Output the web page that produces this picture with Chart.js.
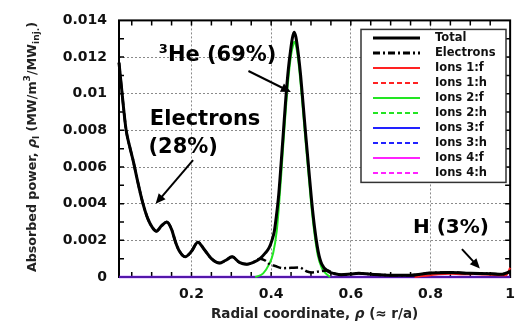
<!DOCTYPE html>
<html>
<head>
<meta charset="utf-8">
<script src="https://cdn.jsdelivr.net/npm/chart.js@4"></script>
<style>
  body { margin: 0; background: #fff; }
  #wrap { width: 524px; height: 329px; position: relative; }
</style>
</head>
<body>
<div id="wrap"><canvas id="powerChart"></canvas></div>
<script>
// absorbed power profiles
const rhoTotal = [0.018, 0.024, 0.030, 0.036, 0.045, 0.053, 0.065, 0.077, 0.090, 0.102, 0.112, 0.125, 0.138, 0.150, 0.160, 0.170, 0.184, 0.200, 0.216, 0.232, 0.250, 0.270, 0.285, 0.302, 0.320, 0.339, 0.355, 0.372, 0.385, 0.395, 0.402, 0.408, 0.413, 0.419, 0.425, 0.431, 0.437, 0.443, 0.449, 0.453, 0.4575, 0.462, 0.468, 0.474, 0.480, 0.487, 0.494, 0.501, 0.509, 0.518, 0.527, 0.544, 0.560, 0.576, 0.600, 0.620, 0.650, 0.700, 0.750, 0.800, 0.850, 0.900, 0.950, 0.980, 1.0];
const pTotal = [0.0117, 0.0104, 0.0091, 0.0080, 0.0071, 0.0064, 0.0052, 0.0041, 0.0032, 0.0027, 0.0025, 0.0028, 0.0030, 0.0026, 0.0019, 0.0014, 0.0011, 0.0014, 0.0019, 0.0015, 0.0010, 0.00076, 0.0009, 0.0011, 0.0008, 0.0007, 0.0008, 0.0010, 0.0013, 0.0016, 0.0020, 0.0025, 0.0033, 0.0045, 0.0062, 0.0080, 0.0098, 0.0113, 0.0124, 0.0130, 0.01336, 0.0131, 0.0122, 0.0110, 0.0095, 0.0077, 0.0060, 0.0043, 0.0027, 0.0014, 0.0007, 0.0003, 0.00018, 0.00012, 0.00016, 0.0002, 0.00015, 0.0001, 0.0001, 0.00022, 0.00025, 0.0002, 0.00018, 0.00015, 0.0003];

// electrons follow the total except around the 3He peak
const rhoElecPeak = [0.385, 0.396, 0.41, 0.43, 0.45, 0.47, 0.49, 0.503, 0.52, 0.54, 0.56];
const pElecPeak = [0.0009, 0.0007, 0.0006, 0.00048, 0.0005, 0.00052, 0.0003, 0.00025, 0.0003, 0.00035, 0.00018];

const rhoHe = [0.36, 0.38, 0.395, 0.405, 0.414, 0.420, 0.426, 0.432, 0.438, 0.444, 0.450, 0.4545, 0.458, 0.4625, 0.467, 0.473, 0.479, 0.486, 0.493, 0.500, 0.508, 0.517, 0.527, 0.537, 0.548];
const pHe = [0, 0.0002, 0.0007, 0.0013, 0.0025, 0.0040, 0.0058, 0.0077, 0.0095, 0.0110, 0.0121, 0.0126, 0.01283, 0.0126, 0.0120, 0.0108, 0.0093, 0.0075, 0.0058, 0.0041, 0.0025, 0.0012, 0.0005, 0.0002, 0];

const rhoH = [0.76, 0.78, 0.80, 0.82, 0.85, 0.88, 0.91, 0.94, 0.97, 0.99, 1.0];
const pH = [0, 0.00005, 0.0001, 0.00015, 0.00018, 0.00015, 0.00016, 0.00013, 0.0001, 0.0001, 0.0005];

const rhoEdge = [0.018, 1.0];
const pZero = [0, 0];

const xTicks = [0.2, 0.4, 0.6, 0.8, 1];
const xTickLabels = ["0.2", "0.4", "0.6", "0.8", "1"];
const yTicks = [0, 0.002, 0.004, 0.006, 0.008, 0.01, 0.012, 0.014];
const yTickLabels = ["0", "0.002", "0.004", "0.006", "0.008", "0.01", "0.012", "0.014"];
const xMinor = [0.05, 0.1, 0.15, 0.2, 0.25, 0.3, 0.35, 0.4, 0.45, 0.5, 0.55, 0.6, 0.65, 0.7, 0.75, 0.8, 0.85, 0.9, 0.95];
const yMinor = [0.001, 0.002, 0.003, 0.004, 0.005, 0.006, 0.007, 0.008, 0.009, 0.01, 0.011, 0.012, 0.013];

const FONT = '"DejaVu Sans", sans-serif';

function pts(xs, ys) {
  return xs.map((x, i) => ({ x: x, y: ys[i] }));
}

const totalPts = pts(rhoTotal, pTotal);
const elecPts = totalPts
  .filter((p) => p.x < 0.38)
  .concat(pts(rhoElecPeak, pElecPeak))
  .concat(totalPts.filter((p) => p.x > 0.57));

function line(label, data, color, width, dash, key) {
  return {
    label: label,
    data: data,
    borderColor: color,
    backgroundColor: color,
    keyColor: key || color,
    borderWidth: width,
    borderDash: dash || [],
    pointRadius: 0,
    fill: false,
    clip: 3,
    cubicInterpolationMode: "monotone",
  };
}

const datasets = [
  line("Total", totalPts, "#000000", 3),
  line("Electrons", elecPts, "#000000", 2.5, [9, 3, 2, 3]),
  line("Ions 1:f", pts(rhoH, pH), "#ff2222", 2),
  line("Ions 1:h", [], "#ff2222", 1.5, [5, 3]),
  line("Ions 2:f", pts(rhoHe, pHe), "#22e622", 2),
  line("Ions 2:h", [], "#22e622", 1.5, [5, 3]),
  line("Ions 3:f", pts(rhoEdge, pZero), "rgba(34,34,255,0.4)", 2.5, null, "#2222ff"),
  line("Ions 3:h", [], "#2222ff", 1.5, [5, 3]),
  line("Ions 4:f", pts(rhoEdge, pZero), "rgba(255,34,255,0.45)", 2.5, null, "#ff22ff"),
  line("Ions 4:h", [], "#ff22ff", 1.5, [5, 3]),
];

function arrow(ctx, x1, y1, x2, y2) {
  const a = Math.atan2(y2 - y1, x2 - x1);
  const len = 10, half = 4.5;
  ctx.beginPath();
  ctx.moveTo(x1, y1);
  ctx.lineTo(x2 - Math.cos(a) * len * 0.8, y2 - Math.sin(a) * len * 0.8);
  ctx.lineWidth = 2;
  ctx.strokeStyle = "#000";
  ctx.stroke();
  ctx.beginPath();
  ctx.moveTo(x2, y2);
  ctx.lineTo(x2 - Math.cos(a) * len - Math.sin(a) * half, y2 - Math.sin(a) * len + Math.cos(a) * half);
  ctx.lineTo(x2 - Math.cos(a) * len + Math.sin(a) * half, y2 - Math.sin(a) * len - Math.cos(a) * half);
  ctx.closePath();
  ctx.fillStyle = "#000";
  ctx.fill();
}

// draws runs of text [text, font, dy] one after another
function runs(ctx, parts, x, y) {
  let cx = x;
  parts.forEach((p) => {
    ctx.font = p[1];
    ctx.fillText(p[0], cx, y + (p[2] || 0));
    cx += ctx.measureText(p[0]).width;
  });
  return cx - x;
}
function runsWidth(ctx, parts) {
  let w = 0;
  parts.forEach((p) => {
    ctx.font = p[1];
    w += ctx.measureText(p[0]).width;
  });
  return w;
}

const framePlugin = {
  id: "frame",
  beforeDatasetsDraw(chart) {
    const { ctx, chartArea: a } = chart;
    const xs = chart.scales.x, ys = chart.scales.y;
    ctx.save();
    ctx.strokeStyle = "#000";
    ctx.lineWidth = 1.5;
    xMinor.forEach((v) => {
      const px = xs.getPixelForValue(v);
      ctx.beginPath();
      ctx.moveTo(px, a.bottom); ctx.lineTo(px, a.bottom - 5);
      ctx.moveTo(px, a.top); ctx.lineTo(px, a.top + 5);
      ctx.stroke();
    });
    yMinor.forEach((v) => {
      const py = ys.getPixelForValue(v);
      ctx.beginPath();
      ctx.moveTo(a.left, py); ctx.lineTo(a.left + 5, py);
      ctx.moveTo(a.right, py); ctx.lineTo(a.right - 5, py);
      ctx.stroke();
    });
    ctx.lineWidth = 2;
    ctx.strokeRect(a.left, a.top, a.right - a.left, a.bottom - a.top);
    ctx.restore();
  },
  afterDatasetsDraw(chart) {
    const { ctx, chartArea: a } = chart;
    const xs = chart.scales.x, ys = chart.scales.y;
    const X = (v) => xs.getPixelForValue(v);
    const Y = (v) => ys.getPixelForValue(v);
    ctx.save();

    // annotations
    ctx.fillStyle = "#000";
    ctx.textBaseline = "alphabetic";
    ctx.textAlign = "left";
    runs(ctx, [["3", "bold 13px " + FONT, -8], ["He (69%)", "bold 21px " + FONT]], X(0.118), Y(0.01177));
    ctx.font = "bold 21px " + FONT;
    ctx.fillText("Electrons", X(0.0955), Y(0.00829));
    ctx.fillText("(28%)", X(0.092), Y(0.00677));
    ctx.font = "bold 20px " + FONT;
    ctx.fillText("H (3%)", X(0.756), Y(0.0024));
    arrow(ctx, X(0.343), Y(0.01124), X(0.4496), Y(0.01009));
    arrow(ctx, X(0.204), Y(0.00638), X(0.110), Y(0.00399));
    arrow(ctx, X(0.879), Y(0.00152), X(0.924), Y(0.00046));

    // legend box
    const lx = a.left + 242, ly = a.top + 9, lw = 145, lh = 153;
    ctx.fillStyle = "#fff";
    ctx.fillRect(lx, ly, lw, lh);
    ctx.strokeStyle = "#333";
    ctx.lineWidth = 1.5;
    ctx.strokeRect(lx, ly, lw, lh);
    chart.data.datasets.forEach((ds, i) => {
      const ry = ly + 8.7 + i * 15;
      ctx.beginPath();
      ctx.setLineDash(ds.borderDash.length ? (i === 1 ? [7, 3, 2, 3] : [5, 3]) : []);
      ctx.strokeStyle = ds.keyColor;
      ctx.lineWidth = i < 2 ? 3 : 2;
      ctx.moveTo(lx + 12, ry);
      ctx.lineTo(lx + 59, ry);
      ctx.stroke();
      ctx.setLineDash([]);
      ctx.fillStyle = "#111";
      ctx.font = "bold 11.5px " + FONT;
      ctx.textBaseline = "middle";
      ctx.fillText(ds.label, lx + 74, ry);
    });

    // axis titles
    ctx.textBaseline = "alphabetic";
    ctx.fillStyle = "#222";
    const xt = [
      ["Radial coordinate, ", "bold 13.5px " + FONT],
      ["ρ", "italic bold 13.5px " + FONT],
      [" (≈ r/a)", "bold 13.5px " + FONT],
    ];
    const xw = runsWidth(ctx, xt);
    runs(ctx, xt, (a.left + a.right) / 2 - xw / 2, 318);

    const yt = [
      ["Absorbed power, ", "bold 12.5px " + FONT],
      ["ρ", "italic bold 12.5px " + FONT],
      ["l", "bold 9px " + FONT, 3],
      [" (MW/m", "bold 12.5px " + FONT],
      ["3", "bold 9px " + FONT, -6],
      ["/MW", "bold 12.5px " + FONT],
      ["inj.", "bold 9px " + FONT, 3],
      [")", "bold 12.5px " + FONT],
    ];
    const yw = runsWidth(ctx, yt);
    ctx.translate(36, (272 + 22) / 2);
    ctx.rotate(-Math.PI / 2);
    ctx.scale(250 / yw, 1);
    runs(ctx, yt, -yw / 2, 0);
    ctx.restore();
  },
};

const ctx = document.getElementById("powerChart");

const myChart = new Chart(ctx, {
  type: "line",
  data: { datasets: datasets },
  options: {
    responsive: true,
    maintainAspectRatio: false,
    animation: false,
    layout: { padding: { top: 13, right: 5, left: 0, bottom: 0 } },
    scales: {
      x: {
        type: "linear",
        min: 0.018,
        max: 1,
        afterBuildTicks: (s) => { s.ticks = xTicks.map((v) => ({ value: v })); },
        afterFit: (s) => { s.height = 52; },
        ticks: {
          callback: (v, i) => xTickLabels[i],
          font: { family: FONT, size: 14, weight: "bold" },
          color: "#111",
          padding: 9,
          maxRotation: 0,
          autoSkip: false,
        },
        grid: { color: "#8a8a8a", lineWidth: 1, drawTicks: false },
        border: { display: false, dash: [2, 2] },
      },
      y: {
        type: "linear",
        min: 0,
        max: 0.014,
        afterBuildTicks: (s) => { s.ticks = yTicks.map((v) => ({ value: v })); },
        afterFit: (s) => { s.width = 119; },
        ticks: {
          callback: (v, i) => yTickLabels[i],
          font: { family: FONT, size: 14, weight: "bold" },
          color: "#111",
          padding: 12,
          autoSkip: false,
        },
        grid: { color: "#8a8a8a", lineWidth: 1, drawTicks: false },
        border: { display: false, dash: [2, 2] },
      },
    },
    plugins: {
      legend: { display: false },
      tooltip: { enabled: false },
    },
  },
  plugins: [framePlugin],
});
</script>
</body>
</html>
